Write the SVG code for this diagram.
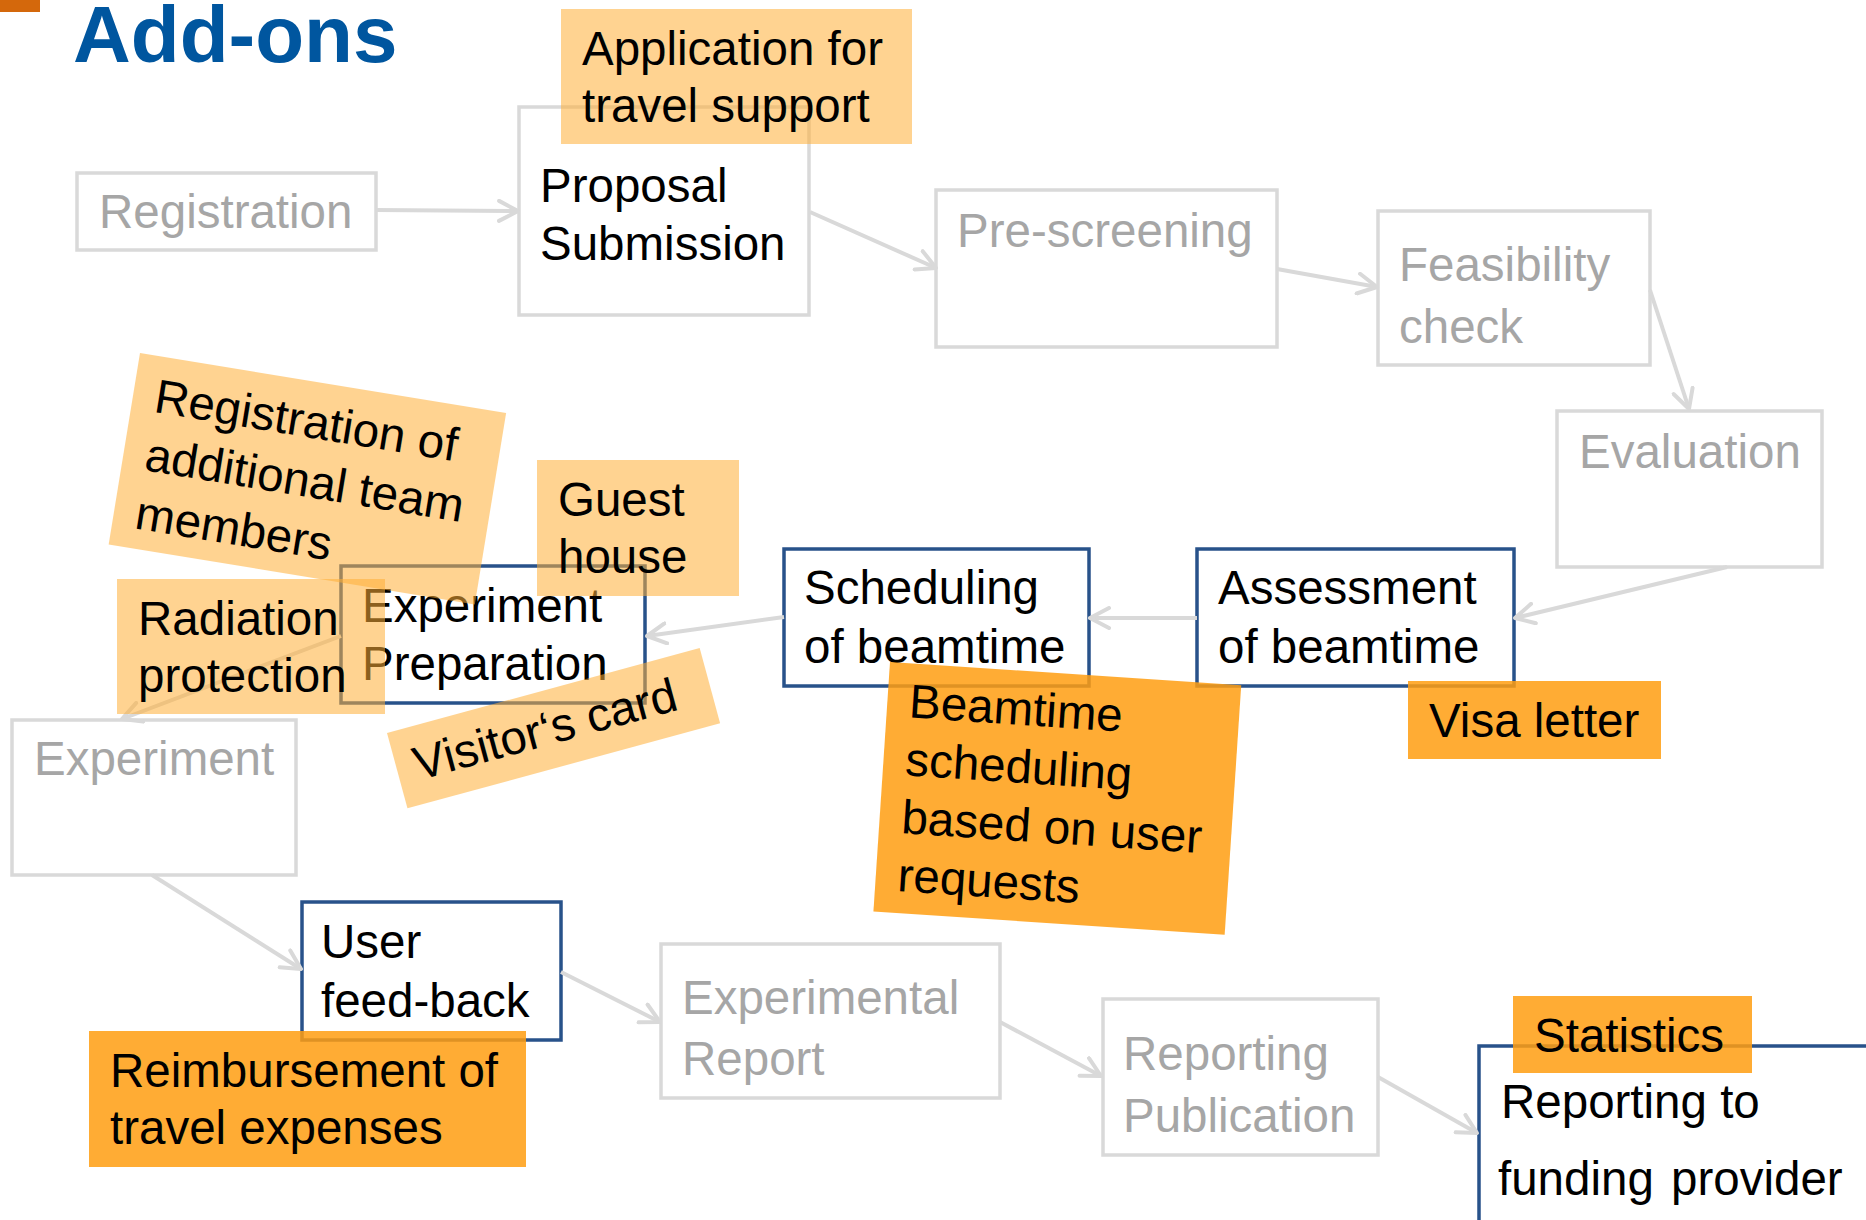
<svg xmlns="http://www.w3.org/2000/svg" width="1866" height="1220" viewBox="0 0 1866 1220">
<defs>
<style>
.t{font-family:"Liberation Sans",Arial,sans-serif;font-size:47.5px;}
.g{fill:#a6a6a6;}
.k{fill:#000;}
.gb{fill:#fff;stroke:#d9d9d9;stroke-width:3.5;}
.bb{fill:#fff;stroke:#28528a;stroke-width:3.5;}
.lo{fill:#ffaf37;fill-opacity:0.55;}
.do{fill:#ff9d10;fill-opacity:0.85;}
.c{fill:none;stroke:#d9d9d9;stroke-width:4;marker-end:url(#ah);}
</style>
<marker id="ah" markerUnits="userSpaceOnUse" viewBox="0 0 24 24" markerWidth="24" markerHeight="24" refX="21" refY="12" orient="auto">
<path d="M2,2 L21,12 L2,22" fill="none" stroke="#d9d9d9" stroke-width="4" stroke-linecap="round" stroke-linejoin="round"/>
</marker>
</defs>
<rect width="1866" height="1220" fill="#fff"/>
<rect x="0" y="0" width="40" height="12" fill="#d4680c"/>
<text x="73" y="62" font-family="Liberation Sans,Arial,sans-serif" font-size="80" font-weight="bold" fill="#00569f">Add-ons</text>

<g id="n-registration"><rect class="gb" x="77" y="173" width="299" height="77"/><text class="t g" x="99" y="228">Registration</text></g>
<g id="n-proposal"><rect class="gb" x="519" y="107" width="290" height="208"/><text class="t k" x="540" y="202">Proposal</text><text class="t k" x="540" y="260">Submission</text></g>
<g id="n-prescreening"><rect class="gb" x="936" y="190" width="341" height="157"/><text class="t g" x="957" y="247">Pre-screening</text></g>
<g id="n-feasibility"><rect class="gb" x="1378" y="211" width="272" height="154"/><text class="t g" x="1399" y="281">Feasibility</text><text class="t g" x="1399" y="343">check</text></g>
<g id="n-evaluation"><rect class="gb" x="1557" y="411" width="265" height="156"/><text class="t g" x="1579" y="468">Evaluation</text></g>
<g id="n-assessment"><rect class="bb" x="1197" y="549" width="317" height="137"/><text class="t k" x="1218" y="604">Assessment</text><text class="t k" x="1218" y="663">of beamtime</text></g>
<g id="n-scheduling"><rect class="bb" x="784" y="549" width="305" height="137"/><text class="t k" x="804" y="604">Scheduling</text><text class="t k" x="804" y="663">of beamtime</text></g>
<g id="n-expprep"><rect class="bb" x="341" y="566" width="304" height="137"/><text class="t k" x="362" y="622">Experiment</text><text class="t k" x="362" y="680">Preparation</text></g>
<g id="n-experiment"><rect class="gb" x="12" y="720" width="284" height="155"/><text class="t g" x="34" y="775">Experiment</text></g>
<g id="n-feedback"><rect class="bb" x="302" y="902" width="259" height="138"/><text class="t k" x="321" y="958">User</text><text class="t k" x="321" y="1017">feed-back</text></g>
<g id="n-expreport"><rect class="gb" x="661" y="944" width="339" height="154"/><text class="t g" x="682" y="1014">Experimental</text><text class="t g" x="682" y="1075">Report</text></g>
<g id="n-reporting"><rect class="gb" x="1103" y="999" width="275" height="156"/><text class="t g" x="1123" y="1070">Reporting</text><text class="t g" x="1123" y="1132">Publication</text></g>
<g id="n-funding"><rect class="bb" x="1479" y="1046" width="420" height="200"/><text class="t k" x="1501" y="1118">Reporting to</text><text class="t k" x="1498" y="1195" word-spacing="4">funding provider</text></g>

<g id="connectors">
<path class="c" d="M376,210 L518,211"/>
<path class="c" d="M810,212 L936,268"/>
<path class="c" d="M1277,269 L1377,287"/>
<path class="c" d="M1650,290 L1689,409"/>
<path class="c" d="M1727,567 L1515,618"/>
<path class="c" d="M1197,618 L1090,618"/>
<path class="c" d="M784,617 L647,636"/>
<path class="c" d="M341,636 L122,719"/>
<path class="c" d="M152,875 L301,969"/>
<path class="c" d="M561,972 L660,1022"/>
<path class="c" d="M1000,1022 L1101,1076"/>
<path class="c" d="M1378,1077 L1477,1133"/>
</g>

<g id="a-travel-support"><rect class="lo" x="561" y="9" width="351" height="135"/><text class="t k" x="582" y="65">Application for</text><text class="t k" x="582" y="122">travel support</text></g>
<g id="a-team-members" transform="translate(140,353) rotate(9.3)"><rect class="lo" x="0" y="0" width="371" height="194"/><text class="t k" x="22" y="56">Registration of</text><text class="t k" x="22" y="115">additional team</text><text class="t k" x="22" y="174">members</text></g>
<g id="a-guest-house"><rect class="lo" x="537" y="460" width="202" height="136"/><text class="t k" x="558" y="516">Guest</text><text class="t k" x="558" y="573">house</text></g>
<g id="a-radiation"><rect class="lo" x="117" y="579" width="268" height="135"/><text class="t k" x="138" y="635">Radiation</text><text class="t k" x="138" y="692">protection</text></g>
<g id="a-visitor-card" transform="translate(387,733) rotate(-15.2)"><rect class="lo" x="0" y="0" width="324" height="78"/><text class="t k" x="18" y="54">Visitor‘s card</text></g>
<g id="a-beamtime" transform="translate(890,662) rotate(3.8)"><rect class="do" x="0" y="0" width="352" height="250"/><text class="t k" x="22" y="54">Beamtime</text><text class="t k" x="22" y="112">scheduling</text><text class="t k" x="22" y="170">based on user</text><text class="t k" x="22" y="228">requests</text></g>
<g id="a-visa"><rect class="do" x="1408" y="681" width="253" height="78"/><text class="t k" x="1429" y="737">Visa letter</text></g>
<g id="a-reimbursement"><rect class="do" x="89" y="1031" width="437" height="136"/><text class="t k" x="110" y="1087">Reimbursement of</text><text class="t k" x="110" y="1144">travel expenses</text></g>
<g id="a-statistics"><rect class="do" x="1513" y="996" width="239" height="77"/><text class="t k" x="1534" y="1052">Statistics</text></g>
</svg>
